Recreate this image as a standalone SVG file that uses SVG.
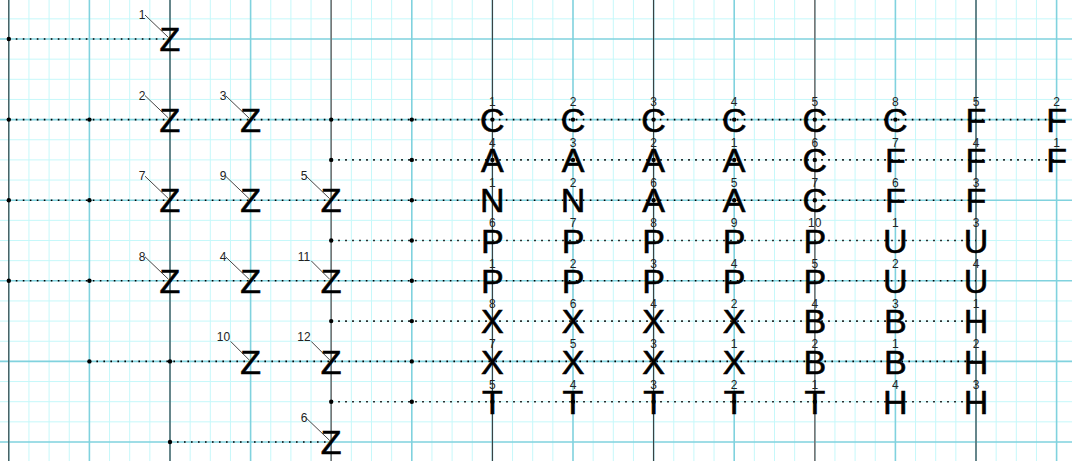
<svg xmlns="http://www.w3.org/2000/svg" width="1072" height="461" viewBox="0 0 1072 461">
<style>
.minor{stroke:#c6f8fa;stroke-width:1;fill:none}
.major{stroke:#80d2de;stroke-width:1.6;fill:none}
.spine{stroke:#333;stroke-width:1;fill:none}
.spine2{stroke:#777;stroke-width:1.6;fill:none}
.dotted{stroke:#000;stroke-width:1.6;stroke-dasharray:1.6 5.4;fill:none}
.lead{stroke:#444;stroke-width:1;fill:none}
.jn{fill:#000}
.big{font-family:"Liberation Sans",Arial,sans-serif;font-size:34px;text-anchor:middle;fill:#000;stroke:#000;stroke-width:0.6}
.num{font-family:"Liberation Sans",Arial,sans-serif;font-size:12px;text-anchor:middle;fill:#222}
</style>
<rect width="1072" height="461" fill="#fff"/>
<g id="grid">
<path class="minor" d="M28.95 0V461M49.1 0V461M69.25 0V461M109.55 0V461M129.7 0V461M149.85 0V461M190.15 0V461M210.3 0V461M230.45 0V461M270.75 0V461M290.9 0V461M311.05 0V461M351.35 0V461M371.5 0V461M391.65 0V461M431.95 0V461M452.1 0V461M472.25 0V461M512.55 0V461M532.7 0V461M552.85 0V461M593.15 0V461M613.3 0V461M633.45 0V461M673.75 0V461M693.9 0V461M714.05 0V461M754.35 0V461M774.5 0V461M794.65 0V461M834.95 0V461M855.1 0V461M875.25 0V461M915.55 0V461M935.7 0V461M955.85 0V461M996.15 0V461M1016.3 0V461M1036.45 0V461
M0 18.85H1072M0 59.15H1072M0 79.3H1072M0 99.45H1072M0 139.75H1072M0 159.9H1072M0 180.05H1072M0 220.35H1072M0 240.5H1072M0 260.65H1072M0 300.95H1072M0 321.1H1072M0 341.25H1072M0 381.55H1072M0 401.7H1072M0 421.85H1072"/>
<path class="major" d="M8.8 0V461M89.4 0V461M170 0V461M250.6 0V461M331.2 0V461M411.8 0V461M492.4 0V461M573 0V461M653.6 0V461M734.2 0V461M814.8 0V461M895.4 0V461M976 0V461M1056.6 0V461
M0 39H1072M0 119.6H1072M0 200.2H1072M0 280.8H1072M0 361.4H1072M0 442H1072"/>
</g>
<g id="connectors">
<path class="spine" d="M8.8 0V461M170 0V461M492.4 0V461M653.6 0V461M976 0V461"/>
<path class="spine2" d="M331.2 0V461M814.8 0V461"/>
<path class="dotted" d="M8.8 39H170M8.8 119.6H1056.6M331.2 159.9H1056.6M8.8 200.2H976M331.2 240.5H976M8.8 280.8H976M331.2 321.1H976M89.4 361.4H976M331.2 401.7H976M170 442H331.2"/>
<g class="jn">
<circle cx="8.8" cy="39" r="2.2"/>
<circle cx="8.8" cy="119.6" r="2.2"/><circle cx="89.4" cy="119.6" r="2.2"/><circle cx="331.2" cy="119.6" r="2.2"/><circle cx="411.8" cy="119.6" r="2.2"/>
<circle cx="331.2" cy="159.9" r="2.2"/><circle cx="411.8" cy="159.9" r="2.2"/>
<circle cx="8.8" cy="200.2" r="2.2"/><circle cx="89.4" cy="200.2" r="2.2"/><circle cx="411.8" cy="200.2" r="2.2"/>
<circle cx="331.2" cy="240.5" r="2.2"/><circle cx="411.8" cy="240.5" r="2.2"/>
<circle cx="8.8" cy="280.8" r="2.2"/><circle cx="89.4" cy="280.8" r="2.2"/><circle cx="411.8" cy="280.8" r="2.2"/>
<circle cx="331.2" cy="321.1" r="2.2"/><circle cx="411.8" cy="321.1" r="2.2"/>
<circle cx="89.4" cy="361.4" r="2.2"/><circle cx="170" cy="361.4" r="2.2"/><circle cx="411.8" cy="361.4" r="2.2"/>
<circle cx="331.2" cy="401.7" r="2.2"/><circle cx="411.8" cy="401.7" r="2.2"/>
<circle cx="170" cy="442" r="2.2"/>
<circle cx="492.4" cy="119.6" r="2.2"/><circle cx="573" cy="119.6" r="2.2"/><circle cx="653.6" cy="119.6" r="2.2"/><circle cx="734.2" cy="119.6" r="2.2"/><circle cx="814.8" cy="119.6" r="2.2"/><circle cx="895.4" cy="119.6" r="2.2"/>
<circle cx="492.4" cy="159.9" r="2.2"/><circle cx="573" cy="159.9" r="2.2"/><circle cx="653.6" cy="159.9" r="2.2"/><circle cx="734.2" cy="159.9" r="2.2"/><circle cx="814.8" cy="159.9" r="2.2"/>
<circle cx="653.6" cy="200.2" r="2.2"/><circle cx="734.2" cy="200.2" r="2.2"/><circle cx="814.8" cy="200.2" r="2.2"/>
<circle cx="492.4" cy="401.7" r="2.2"/><circle cx="573" cy="401.7" r="2.2"/><circle cx="653.6" cy="401.7" r="2.2"/><circle cx="734.2" cy="401.7" r="2.2"/><circle cx="814.8" cy="401.7" r="2.2"/>
</g>
</g>
<g id="z1"><path class="lead" d="M145 15L168.5 37.5"/><text class="num" x="142" y="19">1</text><text class="big" x="170" y="51.2">Z</text></g>
<g id="z2"><path class="lead" d="M145 95.6L168.5 118.1"/><text class="num" x="142" y="99.6">2</text><text class="big" x="170" y="131.8">Z</text></g>
<g id="z3"><path class="lead" d="M225.6 95.6L249.1 118.1"/><text class="num" x="223" y="99.6">3</text><text class="big" x="250.6" y="131.8">Z</text></g>
<g id="z7"><path class="lead" d="M145 176.2L168.5 198.7"/><text class="num" x="142" y="180.2">7</text><text class="big" x="170" y="212.4">Z</text></g>
<g id="z9"><path class="lead" d="M225.6 176.2L249.1 198.7"/><text class="num" x="223" y="180.2">9</text><text class="big" x="250.6" y="212.4">Z</text></g>
<g id="z5"><path class="lead" d="M306.2 176.2L329.7 198.7"/><text class="num" x="304" y="180.2">5</text><text class="big" x="331.2" y="212.4">Z</text></g>
<g id="z8"><path class="lead" d="M145 256.8L168.5 279.3"/><text class="num" x="142" y="260.8">8</text><text class="big" x="170" y="293">Z</text></g>
<g id="z4"><path class="lead" d="M225.6 256.8L249.1 279.3"/><text class="num" x="223" y="260.8">4</text><text class="big" x="250.6" y="293">Z</text></g>
<g id="z11"><path class="lead" d="M311.2 260.8L329.7 279.3"/><text class="num" x="304" y="260.8">11</text><text class="big" x="331.2" y="293">Z</text></g>
<g id="z10"><path class="lead" d="M230.6 341.4L249.1 359.9"/><text class="num" x="223.5" y="341.4">10</text><text class="big" x="250.6" y="373.6">Z</text></g>
<g id="z12"><path class="lead" d="M311.2 341.4L329.7 359.9"/><text class="num" x="304" y="341.4">12</text><text class="big" x="331.2" y="373.6">Z</text></g>
<g id="z6"><path class="lead" d="M306.2 418L329.7 440.5"/><text class="num" x="304" y="422">6</text><text class="big" x="331.2" y="454.2">Z</text></g>
<g id="r1">
<g id="c1"><text class="num" x="492.4" y="106.4">1</text><text class="big" x="492.4" y="131.8">C</text></g>
<g id="c2"><text class="num" x="573" y="106.4">2</text><text class="big" x="573" y="131.8">C</text></g>
<g id="c3"><text class="num" x="653.6" y="106.4">3</text><text class="big" x="653.6" y="131.8">C</text></g>
<g id="c4"><text class="num" x="734.2" y="106.4">4</text><text class="big" x="734.2" y="131.8">C</text></g>
<g id="c5"><text class="num" x="814.8" y="106.4">5</text><text class="big" x="814.8" y="131.8">C</text></g>
<g id="c8"><text class="num" x="895.4" y="106.4">8</text><text class="big" x="895.4" y="131.8">C</text></g>
<g id="f5"><text class="num" x="976" y="106.4">5</text><text class="big" x="976" y="131.8">F</text></g>
<g id="f2"><text class="num" x="1056.6" y="106.4">2</text><text class="big" x="1056.6" y="131.8">F</text></g>
</g>
<g id="r2">
<g id="a4"><text class="num" x="492.4" y="146.7">4</text><text class="big" x="492.4" y="172.1">A</text></g>
<g id="a3"><text class="num" x="573" y="146.7">3</text><text class="big" x="573" y="172.1">A</text></g>
<g id="a2"><text class="num" x="653.6" y="146.7">2</text><text class="big" x="653.6" y="172.1">A</text></g>
<g id="a1"><text class="num" x="734.2" y="146.7">1</text><text class="big" x="734.2" y="172.1">A</text></g>
<g id="c6"><text class="num" x="814.8" y="146.7">6</text><text class="big" x="814.8" y="172.1">C</text></g>
<g id="f7"><text class="num" x="895.4" y="146.7">7</text><text class="big" x="895.4" y="172.1">F</text></g>
<g id="f4"><text class="num" x="976" y="146.7">4</text><text class="big" x="976" y="172.1">F</text></g>
<g id="f1"><text class="num" x="1056.6" y="146.7">1</text><text class="big" x="1056.6" y="172.1">F</text></g>
</g>
<g id="r3">
<g id="n1"><text class="num" x="492.4" y="187">1</text><text class="big" x="492.4" y="212.4">N</text></g>
<g id="n2"><text class="num" x="573" y="187">2</text><text class="big" x="573" y="212.4">N</text></g>
<g id="a6"><text class="num" x="653.6" y="187">6</text><text class="big" x="653.6" y="212.4">A</text></g>
<g id="a5"><text class="num" x="734.2" y="187">5</text><text class="big" x="734.2" y="212.4">A</text></g>
<g id="c7"><text class="num" x="814.8" y="187">7</text><text class="big" x="814.8" y="212.4">C</text></g>
<g id="f6"><text class="num" x="895.4" y="187">6</text><text class="big" x="895.4" y="212.4">F</text></g>
<g id="f3"><text class="num" x="976" y="187">3</text><text class="big" x="976" y="212.4">F</text></g>
</g>
<g id="r4">
<g id="p6"><text class="num" x="492.4" y="227.3">6</text><text class="big" x="492.4" y="252.7">P</text></g>
<g id="p7"><text class="num" x="573" y="227.3">7</text><text class="big" x="573" y="252.7">P</text></g>
<g id="p8"><text class="num" x="653.6" y="227.3">8</text><text class="big" x="653.6" y="252.7">P</text></g>
<g id="p9"><text class="num" x="734.2" y="227.3">9</text><text class="big" x="734.2" y="252.7">P</text></g>
<g id="p10"><text class="num" x="814.8" y="227.3">10</text><text class="big" x="814.8" y="252.7">P</text></g>
<g id="u1"><text class="num" x="895.4" y="227.3">1</text><text class="big" x="895.4" y="252.7">U</text></g>
<g id="u3"><text class="num" x="976" y="227.3">3</text><text class="big" x="976" y="252.7">U</text></g>
</g>
<g id="r5">
<g id="p1"><text class="num" x="492.4" y="267.6">1</text><text class="big" x="492.4" y="293">P</text></g>
<g id="p2"><text class="num" x="573" y="267.6">2</text><text class="big" x="573" y="293">P</text></g>
<g id="p3"><text class="num" x="653.6" y="267.6">3</text><text class="big" x="653.6" y="293">P</text></g>
<g id="p4"><text class="num" x="734.2" y="267.6">4</text><text class="big" x="734.2" y="293">P</text></g>
<g id="p5"><text class="num" x="814.8" y="267.6">5</text><text class="big" x="814.8" y="293">P</text></g>
<g id="u2"><text class="num" x="895.4" y="267.6">2</text><text class="big" x="895.4" y="293">U</text></g>
<g id="u4"><text class="num" x="976" y="267.6">4</text><text class="big" x="976" y="293">U</text></g>
</g>
<g id="r6">
<g id="x8"><text class="num" x="492.4" y="307.9">8</text><text class="big" x="492.4" y="333.3">X</text></g>
<g id="x6"><text class="num" x="573" y="307.9">6</text><text class="big" x="573" y="333.3">X</text></g>
<g id="x4"><text class="num" x="653.6" y="307.9">4</text><text class="big" x="653.6" y="333.3">X</text></g>
<g id="x2"><text class="num" x="734.2" y="307.9">2</text><text class="big" x="734.2" y="333.3">X</text></g>
<g id="b4"><text class="num" x="814.8" y="307.9">4</text><text class="big" x="814.8" y="333.3">B</text></g>
<g id="b3"><text class="num" x="895.4" y="307.9">3</text><text class="big" x="895.4" y="333.3">B</text></g>
<g id="h1"><text class="num" x="976" y="307.9">1</text><text class="big" x="976" y="333.3">H</text></g>
</g>
<g id="r7">
<g id="x7"><text class="num" x="492.4" y="348.2">7</text><text class="big" x="492.4" y="373.6">X</text></g>
<g id="x5"><text class="num" x="573" y="348.2">5</text><text class="big" x="573" y="373.6">X</text></g>
<g id="x3"><text class="num" x="653.6" y="348.2">3</text><text class="big" x="653.6" y="373.6">X</text></g>
<g id="x1"><text class="num" x="734.2" y="348.2">1</text><text class="big" x="734.2" y="373.6">X</text></g>
<g id="b2"><text class="num" x="814.8" y="348.2">2</text><text class="big" x="814.8" y="373.6">B</text></g>
<g id="b1"><text class="num" x="895.4" y="348.2">1</text><text class="big" x="895.4" y="373.6">B</text></g>
<g id="h2"><text class="num" x="976" y="348.2">2</text><text class="big" x="976" y="373.6">H</text></g>
</g>
<g id="r8">
<g id="t5"><text class="num" x="492.4" y="388.5">5</text><text class="big" x="492.4" y="413.9">T</text></g>
<g id="t4"><text class="num" x="573" y="388.5">4</text><text class="big" x="573" y="413.9">T</text></g>
<g id="t3"><text class="num" x="653.6" y="388.5">3</text><text class="big" x="653.6" y="413.9">T</text></g>
<g id="t2"><text class="num" x="734.2" y="388.5">2</text><text class="big" x="734.2" y="413.9">T</text></g>
<g id="t1"><text class="num" x="814.8" y="388.5">1</text><text class="big" x="814.8" y="413.9">T</text></g>
<g id="h4"><text class="num" x="895.4" y="388.5">4</text><text class="big" x="895.4" y="413.9">H</text></g>
<g id="h3"><text class="num" x="976" y="388.5">3</text><text class="big" x="976" y="413.9">H</text></g>
</g>
</svg>
